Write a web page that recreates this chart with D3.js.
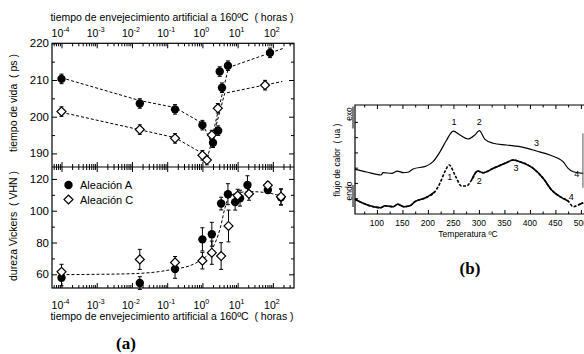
<!DOCTYPE html>
<html>
<head>
<meta charset="utf-8">
<script src="https://cdn.jsdelivr.net/npm/d3@7"></script>
<style>
body { margin: 0; background: #fff; }
svg { display: block; font-family: "Liberation Sans", Arial, sans-serif; }
.tk line { stroke: #000; stroke-width: 1; }
</style>
</head>
<body>
<svg id="chart" width="584" height="354"></svg>
<script>
// ---- panel (a), top: positron lifetime (ps) vs ageing time (h)
var hoursTopA = [1e-4, 0.0167, 0.167, 1, 2, 2.8, 3.1, 3.6, 5.3, 83];
var lifeA     = [210.3, 203.6, 202.0, 197.7, 192.9, 196.2, 212.3, 207.9, 213.9, 217.4];
var hoursTopC = [1e-4, 0.0167, 0.167, 1, 1.34, 1.85, 2.74, 60];
var lifeC     = [201.4, 196.5, 194.1, 189.5, 188.2, 195.0, 202.3, 208.6];
var lifeErr = 1.3;
// dashed guide lines
var fitAh = [1e-4, 0.0167, 0.167, 1, 1.75, 5.5, 195];
var fitAv = [210.6, 204.4, 202.5, 198.2, 193.2, 213.4, 218.6];
var fitCh = [1e-4, 0.167, 1, 1.3, 4.3, 185];
var fitCv = [201.2, 194.3, 190.0, 187.8, 206.4, 209.6];

// ---- panel (a), bottom: Vickers hardness
var hoursBotA = [1e-4, 0.0167, 0.167, 1, 1.85, 3.4, 5.3, 8.5, 11.7, 19, 72, 170];
var hvA       = [57.8, 54.5, 63.3, 82, 85.2, 104.5, 110.4, 105.4, 107.9, 116.2, 113, 108.5];
var hvAErr    = [5, 4, 5.8, 7.3, 7.5, 4, 6.6, 5, 5, 5.8, 2, 5];
var hoursBotC = [1e-4, 0.0167, 0.167, 1, 1.85, 3.4, 5.5, 10, 21, 72, 170];
var hvC       = [61.6, 69.4, 67.5, 68.6, 73.6, 71.5, 90.4, 109.5, 110.6, 116, 108.8];
var hvCErr    = [4.7, 6.3, 3.7, 5.2, 7.3, 8.4, 10, 4, 4, 2, 5];
var hvCurveH = [1e-4, 1e-3, 0.01, 0.05, 0.15, 0.45, 0.9, 1.85, 3.2, 4.4, 5.8, 11.7, 23, 68, 180];
var hvCurveV = [59.8, 60, 60.4, 61.5, 63.2, 65.5, 69, 75.5, 89, 102, 109, 111.5, 112, 111.3, 109];

var decades = [-4, -3, -2, -1, 0, 1, 2];
var lifeTicks = [190, 200, 210, 220];
var hvTicks = [60, 80, 100, 120];

// ---- panel (b): DSC curves
var dscTUp = [57, 80, 108, 112, 129, 140, 152, 161, 171, 197, 210, 223.5, 236.7, 249.6, 262.7, 279, 292, 300.6, 311.8, 328, 354, 387, 413, 439, 465, 475, 485, 504.5];
var dscUp  = [41.0, 38.5, 35.8, 37.9, 37.3, 39.4, 37.9, 38.3, 41.3, 44.0, 48.0, 56.9, 67.9, 76.1, 72.5, 68.8, 72.5, 76.4, 68.5, 64.9, 63.3, 61.2, 57.8, 54.1, 48.0, 41.9, 38.8, 37.3];
var dscTLo = [57, 73, 108, 115.7, 132, 140.6, 153, 164.7, 174.5, 197.5, 213.7, 223.5, 233.3, 241.8, 253, 266, 276, 285.7, 297.5, 308.4, 328, 354, 367, 380, 406.5, 426, 442.5, 459, 475, 485, 494.7, 504.5];
var dscLo  = [13.5, 9.8, 5.8, 7.6, 6.7, 8.9, 6.7, 7.6, 11.3, 15.3, 20.5, 28.2, 38.8, 45.0, 35.8, 25.7, 25.7, 31.2, 39.4, 37.9, 41.9, 47.1, 49.5, 48.0, 41.9, 32.8, 22.0, 15.9, 11.9, 6.7, 8.3, 10.4];
var dscDashed = [[212, 258], [262, 292], [468, 500]];
var peakLabUp = [["1", 251, 84.7], ["2", 300.7, 84.7], ["3", 413, 65.4], ["4", 491.7, 37.3]];
var peakLabLo = [["1", 243, 33.7], ["2", 300.7, 30.5], ["3", 372.7, 42.5], ["4", 481, 15.9]];
var tempTicks = [100, 150, 200, 250, 300, 350, 400, 450, 500];

var svg = d3.select("#chart");

var xA = d3.scaleLog().domain([Math.pow(10, -4.27), Math.pow(10, 2.6)]).range([52, 294]);
var yTop = d3.scaleLinear().domain([186.3, 220]).range([167, 43.3]);
var yBot = d3.scaleLinear().domain([51.4, 127.5]).range([288, 167]);

var majorX = decades.map(function(e) { return Math.pow(10, e); });
var minorX = xA.ticks().filter(function(v) {
    return Math.abs(Math.log10(v) - Math.round(Math.log10(v))) > 1e-6;
});

function tickAxis(axisFn, scale, values, size, tx, ty) {
    svg.append("g").attr("class", "tk")
        .attr("transform", "translate(" + tx + "," + ty + ")")
        .call(axisFn(scale).tickValues(values).tickSize(-size).tickFormat(""))
        .call(function(g) { g.select(".domain").remove(); });
}

// log ticks on the three horizontal edges (inward)
tickAxis(d3.axisTop, xA, majorX, 5, 0, 43.3);
tickAxis(d3.axisTop, xA, minorX, 3, 0, 43.3);
tickAxis(d3.axisBottom, xA, majorX, 5, 0, 167);
tickAxis(d3.axisBottom, xA, minorX, 3, 0, 167);
tickAxis(d3.axisTop, xA, majorX, 5, 0, 167);
tickAxis(d3.axisTop, xA, minorX, 3, 0, 167);
tickAxis(d3.axisBottom, xA, majorX, 5, 0, 288);
tickAxis(d3.axisBottom, xA, minorX, 3, 0, 288);

// y ticks both sides
tickAxis(d3.axisLeft, yTop, lifeTicks, 5, 52, 0);
tickAxis(d3.axisLeft, yTop, [195, 205, 215], 3, 52, 0);
tickAxis(d3.axisRight, yTop, lifeTicks, 5, 294, 0);
tickAxis(d3.axisRight, yTop, [195, 205, 215], 3, 294, 0);
tickAxis(d3.axisLeft, yBot, hvTicks, 5, 52, 0);
tickAxis(d3.axisLeft, yBot, [70, 90, 110], 3, 52, 0);
tickAxis(d3.axisRight, yBot, hvTicks, 5, 294, 0);
tickAxis(d3.axisRight, yBot, [70, 90, 110], 3, 294, 0);

// frames
svg.append("rect").attr("x", 52).attr("y", 43.3).attr("width", 242).attr("height", 244.7)
    .attr("fill", "none").attr("stroke", "#000").attr("stroke-width", 1.2);
svg.append("line").attr("x1", 52).attr("x2", 294).attr("y1", 167).attr("y2", 167)
    .attr("stroke", "#000").attr("stroke-width", 1.2);

// decade labels
function decadeLabels(y) {
    decades.forEach(function(e) {
        var t = svg.append("text").attr("x", xA(Math.pow(10, e)) - 1).attr("y", y)
            .attr("text-anchor", "middle").attr("font-size", 10.5);
        t.append("tspan").text("10");
        t.append("tspan").attr("dy", -5).attr("font-size", 7).text(e);
    });
}
decadeLabels(37);
decadeLabels(309);

svg.append("text").attr("x", 172).attr("y", 21).attr("text-anchor", "middle")
    .attr("font-size", 10.5).style("white-space", "pre")
    .text("tiempo de envejecimiento artificial a 160ºC  ( horas )");
svg.append("text").attr("x", 172).attr("y", 320).attr("text-anchor", "middle")
    .attr("font-size", 10.5).style("white-space", "pre")
    .text("tiempo de envejecimiento artificial a 160ºC  ( horas )");

lifeTicks.forEach(function(v) {
    svg.append("text").attr("x", 49).attr("y", yTop(v) + 4).attr("text-anchor", "end")
        .attr("font-size", 11.5).text(v);
});
hvTicks.forEach(function(v) {
    svg.append("text").attr("x", 49).attr("y", yBot(v) + 4).attr("text-anchor", "end")
        .attr("font-size", 11.5).text(v);
});

svg.append("text").attr("transform", "translate(17,103) rotate(-90)")
    .attr("text-anchor", "middle").attr("font-size", 10.5).style("white-space", "pre")
    .text("tiempo de vida  ( ps )");
svg.append("text").attr("transform", "translate(17,226) rotate(-90)")
    .attr("text-anchor", "middle").attr("font-size", 10.5).style("white-space", "pre")
    .text("dureza Vickers  ( VHN )");

// dashed guides
var lineTop = d3.line().x(function(d) { return xA(d[0]); }).y(function(d) { return yTop(d[1]); });
svg.append("path").attr("d", lineTop(d3.zip(fitAh, fitAv)))
    .attr("fill", "none").attr("stroke", "#000").attr("stroke-width", 1).attr("stroke-dasharray", "3,2");
svg.append("path").attr("d", lineTop(d3.zip(fitCh, fitCv)))
    .attr("fill", "none").attr("stroke", "#000").attr("stroke-width", 1).attr("stroke-dasharray", "3,2");
var lineBot = d3.line().curve(d3.curveMonotoneX)
    .x(function(d) { return xA(d[0]); }).y(function(d) { return yBot(d[1]); });
svg.append("path").attr("d", lineBot(d3.zip(hvCurveH, hvCurveV)))
    .attr("fill", "none").attr("stroke", "#000").attr("stroke-width", 1).attr("stroke-dasharray", "3,2");

function errorBars(hours, vals, errs, yScale) {
    var g = svg.append("g").attr("stroke", "#000").attr("stroke-width", 1);
    hours.forEach(function(h, i) {
        var e = Array.isArray(errs) ? errs[i] : errs;
        var x = xA(h), y0 = yScale(vals[i] - e), y1 = yScale(vals[i] + e);
        g.append("line").attr("x1", x).attr("x2", x).attr("y1", y0).attr("y2", y1);
        g.append("line").attr("x1", x - 2).attr("x2", x + 2).attr("y1", y0).attr("y2", y0);
        g.append("line").attr("x1", x - 2).attr("x2", x + 2).attr("y1", y1).attr("y2", y1);
    });
}
var diamond = d3.symbol().type(d3.symbolSquare).size(40);
function dots(hours, vals, yScale) {
    svg.append("g").selectAll("circle").data(hours).enter().append("circle")
        .attr("cx", function(h) { return xA(h); })
        .attr("cy", function(h, i) { return yScale(vals[i]); })
        .attr("r", 4.2).attr("fill", "#000");
}
function diamonds(hours, vals, yScale) {
    svg.append("g").selectAll("path").data(hours).enter().append("path")
        .attr("d", diamond)
        .attr("transform", function(h, i) {
            return "translate(" + xA(h) + "," + yScale(vals[i]) + ") rotate(45)";
        })
        .attr("fill", "#fff").attr("stroke", "#000").attr("stroke-width", 1.2);
}

errorBars(hoursTopC, lifeC, lifeErr, yTop);
errorBars(hoursTopA, lifeA, lifeErr, yTop);
dots(hoursTopA, lifeA, yTop);
diamonds(hoursTopC, lifeC, yTop);

errorBars(hoursBotA, hvA, hvAErr, yBot);
errorBars(hoursBotC, hvC, hvCErr, yBot);
dots(hoursBotA, hvA, yBot);
diamonds(hoursBotC, hvC, yBot);

// legend
svg.append("circle").attr("cx", 68.5).attr("cy", 185).attr("r", 4.2).attr("fill", "#000");
svg.append("text").attr("x", 80).attr("y", 189).attr("font-size", 11).text("Aleación A");
svg.append("path").attr("d", diamond).attr("transform", "translate(68.5,199.5) rotate(45)")
    .attr("fill", "#fff").attr("stroke", "#000").attr("stroke-width", 1.2);
svg.append("text").attr("x", 80).attr("y", 203.5).attr("font-size", 11).text("Aleación C");

svg.append("text").attr("x", 126).attr("y", 349).attr("text-anchor", "middle")
    .attr("font-family", "Liberation Serif, Times New Roman, serif").attr("font-weight", "bold")
    .attr("font-size", 17).text("(a)");

// ================= panel (b)
var xB = d3.scaleLinear().domain([57, 510]).range([355, 586]);
var yB = d3.scaleLinear().domain([0, 100]).range([214, 105]);

var tMinor = d3.range(75, 510, 50);
tickAxis(d3.axisBottom, xB, tempTicks, 4, 0, 214);
tickAxis(d3.axisBottom, xB, tMinor, 2.5, 0, 214);
tickAxis(d3.axisTop, xB, tempTicks, 4, 0, 105);
tickAxis(d3.axisTop, xB, tMinor, 2.5, 0, 105);
tickAxis(d3.axisLeft, yB, [14.5, 28.5, 42.5, 56.5, 70.5, 84.5], 3, 355, 0);

svg.append("path").attr("d", "M586,105H355V214H586")
    .attr("fill", "none").attr("stroke", "#000").attr("stroke-width", 1.2);

tempTicks.forEach(function(v) {
    svg.append("text").attr("x", xB(v)).attr("y", 225.5).attr("text-anchor", "middle")
        .attr("font-size", 8.5).text(v);
});
svg.append("text").attr("x", 468).attr("y", 236.5).attr("text-anchor", "middle")
    .attr("font-size", 8.5).text("Temperatura ºC");
svg.append("text").attr("transform", "translate(340,160) rotate(-90)")
    .attr("text-anchor", "middle").attr("font-size", 8.5).style("white-space", "pre")
    .text("flujo de calor  ( ua )");
svg.append("text").attr("transform", "translate(351.5,114) rotate(-90)")
    .attr("text-anchor", "middle").attr("font-size", 8.5).text("exo");
svg.append("text").attr("transform", "translate(351.5,191) rotate(-90)")
    .attr("text-anchor", "middle").attr("font-size", 8.5).text("endo");
svg.append("line").attr("x1", 353).attr("x2", 353).attr("y1", 106.5).attr("y2", 128.5)
    .attr("stroke", "#000").attr("stroke-width", 1);
svg.append("line").attr("x1", 353).attr("x2", 353).attr("y1", 185).attr("y2", 207)
    .attr("stroke", "#000").attr("stroke-width", 1);

var lineB = d3.line().curve(d3.curveMonotoneX)
    .x(function(d) { return xB(d[0]); }).y(function(d) { return yB(d[1]); });
svg.append("path").attr("d", lineB(d3.zip(dscTUp, dscUp)))
    .attr("fill", "none").attr("stroke", "#000").attr("stroke-width", 1.2);

function inDash(t) {
    return dscDashed.some(function(r) { return t >= r[0] && t <= r[1]; });
}
var loPts = d3.zip(dscTLo, dscLo);
svg.append("path")
    .attr("d", d3.line().curve(d3.curveMonotoneX)
        .defined(function(d, i) { return !inDash(d[0]) || (i > 0 && !inDash(loPts[i - 1][0])) || (i < loPts.length - 1 && !inDash(loPts[i + 1][0])); })
        .x(function(d) { return xB(d[0]); }).y(function(d) { return yB(d[1]); })(loPts))
    .attr("fill", "none").attr("stroke", "#000").attr("stroke-width", 1.6);
svg.append("path").attr("d", lineB(loPts))
    .attr("fill", "none").attr("stroke", "#000").attr("stroke-width", 1.6)
    .attr("stroke-dasharray", "3,1.5");

peakLabUp.concat(peakLabLo).forEach(function(p) {
    svg.append("text").attr("x", xB(p[1])).attr("y", yB(p[2]) + 3.2)
        .attr("text-anchor", "middle").attr("font-size", 9).text(p[0]);
});
svg.append("line").attr("x1", xB(504)).attr("x2", xB(504)).attr("y1", yB(74)).attr("y2", yB(24))
    .attr("stroke", "#555").attr("stroke-width", 1);

svg.append("text").attr("x", 470).attr("y", 274).attr("text-anchor", "middle")
    .attr("font-family", "Liberation Serif, Times New Roman, serif").attr("font-weight", "bold")
    .attr("font-size", 17).text("(b)");
</script>
</body>
</html>
